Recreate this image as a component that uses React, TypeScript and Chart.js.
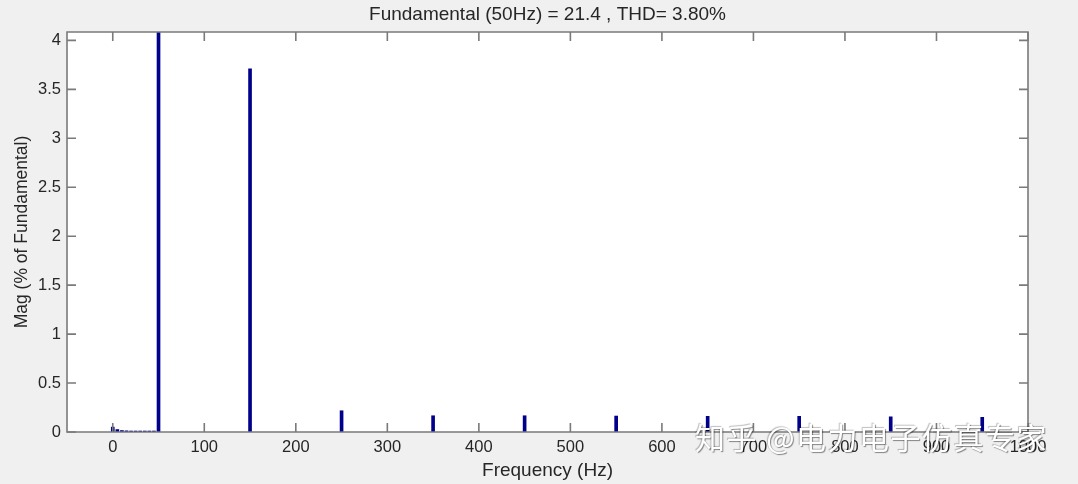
import React, { useEffect, useRef } from "react";
import { Chart, registerables } from "chart.js";

Chart.register(...registerables);

const frequencies = [0, 5, 10, 15, 20, 25, 30, 35, 40, 45, 50, 150, 250, 350, 450, 550, 650, 750, 850, 950];
const magnitudes = [0.05, 0.025, 0.015, 0.012, 0.01, 0.01, 0.01, 0.01, 0.01, 0.01, 100, 3.71, 0.217, 0.166, 0.166, 0.163, 0.16, 0.16, 0.155, 0.15];
const xTicks = [0, 100, 200, 300, 400, 500, 600, 700, 800, 900, 1000];
const yTicks = [0, 0.5, 1, 1.5, 2, 2.5, 3, 3.5, 4];
const titleText = "Fundamental (50Hz) = 21.4 , THD= 3.80%";
const xLabel = "Frequency (Hz)";
const yLabel = "Mag (% of Fundamental)";
const watermark = "知乎 @电力电子仿真专家";

const FONT = "'Liberation Sans', Arial, sans-serif";
const TEXT = "#262626";
const AXIS = "#7a7a7a";

const matlabFrame = {
  id: "matlabFrame",
  beforeDraw(chart: any) {
    const { ctx, chartArea } = chart;
    const { left, top, right, bottom } = chartArea;
    ctx.save();
    ctx.fillStyle = "#f0f0f0";
    ctx.fillRect(0, 0, chart.width, chart.height);
    ctx.fillStyle = "#ffffff";
    ctx.fillRect(left, top, right - left, bottom - top);
    ctx.restore();
  },
  afterDraw(chart: any) {
    const { ctx, chartArea } = chart;
    const { left, top, right, bottom } = chartArea;
    const xs = chart.scales.x;
    const ys = chart.scales.y;
    const tl = 9;
    ctx.save();
    ctx.strokeStyle = AXIS;
    ctx.lineWidth = 1.6;
    ctx.beginPath();
    ctx.rect(left, top, right - left, bottom - top);
    ctx.stroke();
    ctx.beginPath();
    xs.ticks.forEach((t: any) => {
      const px = xs.getPixelForValue(t.value);
      ctx.moveTo(px, bottom);
      ctx.lineTo(px, bottom - tl);
      ctx.moveTo(px, top);
      ctx.lineTo(px, top + tl);
    });
    ys.ticks.forEach((t: any) => {
      const py = ys.getPixelForValue(t.value);
      ctx.moveTo(left, py);
      ctx.lineTo(left + tl, py);
      ctx.moveTo(right, py);
      ctx.lineTo(right - tl, py);
    });
    ctx.stroke();
    ctx.fillStyle = TEXT;
    ctx.font = `19px ${FONT}`;
    ctx.textAlign = "center";
    ctx.textBaseline = "middle";
    ctx.fillText(titleText, (left + right) / 2, 15);
    ctx.restore();
  },
};

export default function App() {
  const canvasRef = useRef<HTMLCanvasElement | null>(null);

  useEffect(() => {
    document.body.style.margin = "0";
    const canvas = canvasRef.current;
    if (!canvas) return;
    const chart = new Chart(canvas, {
      type: "bar",
      data: {
        datasets: [
          {
            data: frequencies.map((f, i) => ({ x: f, y: magnitudes[i] })),
            backgroundColor: "#00008b",
            borderWidth: 0,
            barThickness: 3,
          },
        ],
      },
      options: {
        responsive: false,
        animation: false,
        layout: { padding: { top: 32, right: 50, left: 0, bottom: 0 } },
        plugins: {
          legend: { display: false },
          tooltip: { enabled: false },
          title: { display: false },
        },
        scales: {
          x: {
            type: "linear",
            min: -50,
            max: 1000,
            offset: false,
            grid: { display: false, drawTicks: false, tickLength: 0 },
            border: { display: false },
            afterBuildTicks: (s: any) => {
              s.ticks = xTicks.map((v) => ({ value: v }));
            },
            afterFit: (s: any) => {
              s.height = 52;
            },
            ticks: {
              color: TEXT,
              font: { family: FONT, size: 16.5 },
              padding: 6,
              maxRotation: 0,
              autoSkip: false,
              callback: (v: any) => String(v),
            },
            title: {
              display: true,
              text: xLabel,
              color: TEXT,
              font: { family: FONT, size: 19 },
              padding: { top: 0, bottom: 2 },
            },
          },
          y: {
            type: "linear",
            min: 0,
            max: 4.086,
            grid: { display: false, drawTicks: false, tickLength: 0 },
            border: { display: false },
            afterBuildTicks: (s: any) => {
              s.ticks = yTicks.map((v) => ({ value: v }));
            },
            afterFit: (s: any) => {
              s.width = 67;
            },
            ticks: {
              color: TEXT,
              font: { family: FONT, size: 16.5 },
              padding: 6,
              autoSkip: false,
              callback: (v: any) => String(v),
            },
            title: {
              display: true,
              text: yLabel,
              color: TEXT,
              font: { family: FONT, size: 17.5 },
              padding: { top: 12, bottom: 0 },
            },
          },
        },
      },
      plugins: [matlabFrame],
    });
    return () => chart.destroy();
  }, []);

  return (
    <div style={{ position: "absolute", left: 0, top: 0, width: 1078, height: 484, background: "#f0f0f0", overflow: "hidden" }}>
      <canvas ref={canvasRef} width={1078} height={484} style={{ display: "block" }} />
      <div
        style={{
          position: "absolute",
          left: 695,
          top: 418,
          fontFamily: "'Noto Sans CJK SC', sans-serif",
          fontSize: 30,
          lineHeight: "36px",
          letterSpacing: "1.5px",
          whiteSpace: "nowrap",
          color: "#ffffff",
          textShadow: "1px 1px 1px rgba(0,0,0,0.45), -1px -1px 1px rgba(0,0,0,0.25)",
          pointerEvents: "none",
        }}
      >
        {watermark}
      </div>
    </div>
  );
}
